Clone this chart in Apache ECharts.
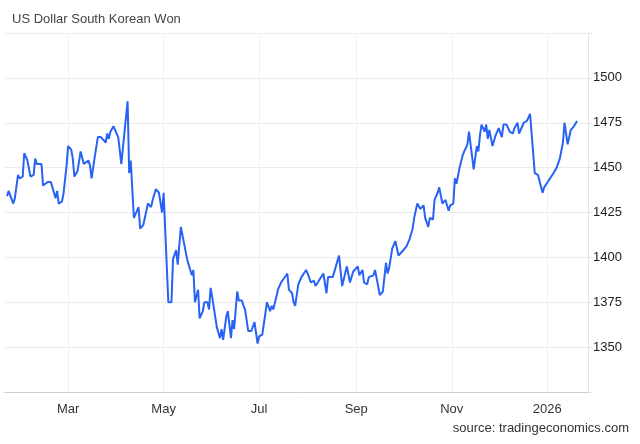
<!DOCTYPE html>
<html><head><meta charset="utf-8">
<script src="https://cdn.jsdelivr.net/npm/echarts@6/dist/echarts.min.js"></script>
<style>html,body{margin:0;padding:0;background:#fff}#c{width:640px;height:444px}</style>
</head><body><div id="c"></div>
<script>
// day offset from 2025-01-01
const days = [20,21,24,25,27,28,30,31,32,33,35,37,38,39,40,42,43,46,48,49,51,52,53,55,56,58,59,61,62,63,65,66,67,69,70,72,73,74,76,78,80,81,83,84,85,86,88,89,91,93,94,97,98,99,101,102,104,105,107,108,110,112,113,115,117,119,120,123,125,126,128,129,131,132,135,136,138,139,140,142,143,145,146,148,149,150,151,152,154,156,157,158,160,161,163,164,165,167,168,170,171,172,174,176,177,178,180,181,183,184,185,186,188,189,190,192,193,195,196,
199,200,202,203,204,206,208,209,211,212,214,216,217,218,222,224,225,228,230,232,234,237,238,239,241,244,245,247,248,250,251,254,255,257,258,260,262,263,264,266,268,269,270,272,273,275,277,279,280,281,282,284,286,287,289,290,292,293,294,295,296,298,300,302,303,305,306,307,309,311,312,314,315,316,318,320,321,322,323,325,326,327,328,330,332,334,336,337,339,341,343,344,346,347,350,352,354,355,357,359,362,363,366,367,369,371,373,375,376,378,380,382,384];
const rates = [1434,1437,1430,1433,1446,1444,1445,1458,1458,1454,1445,1446,1455,1452,1453,1452,1440,1442,1442,1441,1433,1437,1430,1431,1435,1451,1462,1460,1455,1445,1448,1448,1459,1452,1451,1454,1451,1444,1456,1467,1467,1468,1464,1469,1466,1470,1473,1472,1467,1452,1461,1487,1447,1454,1422,1421,1428,1416,1418,1419,1430,1428,1432,1438,1436,1425,1436,1375,1375,1399,1404,1396,1417,1417,1399,1398,1390,1393,1375,1382,1366,1370,1375,1375,1371,1383,1378,1379,1361,1355,1360,1354,1367,1370,1355,1365,1360,1381,1376,1376,1373,1371,1359,1359,1358,1364,1352,1356,1357,1363,1363,1375,1370,1373,1371,1378,1382,1386,1387,
1391,1382,1380,1375,1373,1385,1389,1389,1393,1391,1386,1387,1384,1384,1391,1380,1389,1389,1395,1401,1384,1395,1394,1386,1392,1395,1390,1393,1386,1385,1389,1390,1393,1384,1379,1381,1397,1391,1394,1405,1409,1409,1401,1403,1404,1406,1410,1416,1422,1423,1430,1427,1429,1422,1417,1422,1421,1432,1432,1436,1439,1430,1432,1426,1429,1430,1444,1441,1450,1457,1459,1463,1470,1471,1449,1462,1459,1468,1474,1470,1474,1466,1471,1462,1468,1472,1467,1474,1474,1470,1469,1472,1475,1469,1475,1476,1480,1480,1447,1446,1436,1439,1443,1443,1447,1450,1455,1464,1475,1463,1471,1473,1476];
const tickDays = [59,120,181,243,304,365];
const tickLabels = ['Mar','May','Jul','Sep','Nov','2026'];
const data = days.map((d,i)=>[d,rates[i]]);
const chart = echarts.init(document.getElementById('c'));
chart.setOption({
  animation:false,
  title:[{text:'US Dollar South Korean Won',left:7,top:8,textStyle:{fontSize:13,fontWeight:'normal',color:'#444',fontFamily:'Liberation Sans'}},
         {text:'source: tradingeconomics.com',right:6,bottom:4,textStyle:{fontSize:13,fontWeight:'normal',color:'#333',fontFamily:'Liberation Sans'}}],
  grid:{left:5,right:52,top:33,bottom:52},
  xAxis:{type:'value',min:18.7,max:391,
    axisLine:{show:true,lineStyle:{color:'#ccc'}},
    axisTick:{show:false,customValues:tickDays},
    axisLabel:{customValues:tickDays,formatter:v=>tickLabels[tickDays.indexOf(Math.round(v))]||'',color:'#333',fontSize:13,margin:11,fontFamily:'Liberation Sans'},
    splitLine:{show:true,lineStyle:{color:'#eef0f3'}}},
  yAxis:{type:'value',position:'right',min:1325,max:1525,interval:25,
    axisLine:{show:true,lineStyle:{color:'#e6e6e6'}},axisTick:{show:true,length:4,lineStyle:{color:'#e6e6e6'}},
    axisLabel:{color:'#222',fontSize:13,margin:5,fontFamily:'Liberation Sans',formatter:v=>(v===1325||v===1525)?'':v},
    splitLine:{lineStyle:{color:'#ebebeb'}}},
  series:[{type:'line',data:data,showSymbol:false,lineStyle:{color:'#2862f5',width:2},itemStyle:{color:'#2862f5'}}]
});
</script></body></html>
